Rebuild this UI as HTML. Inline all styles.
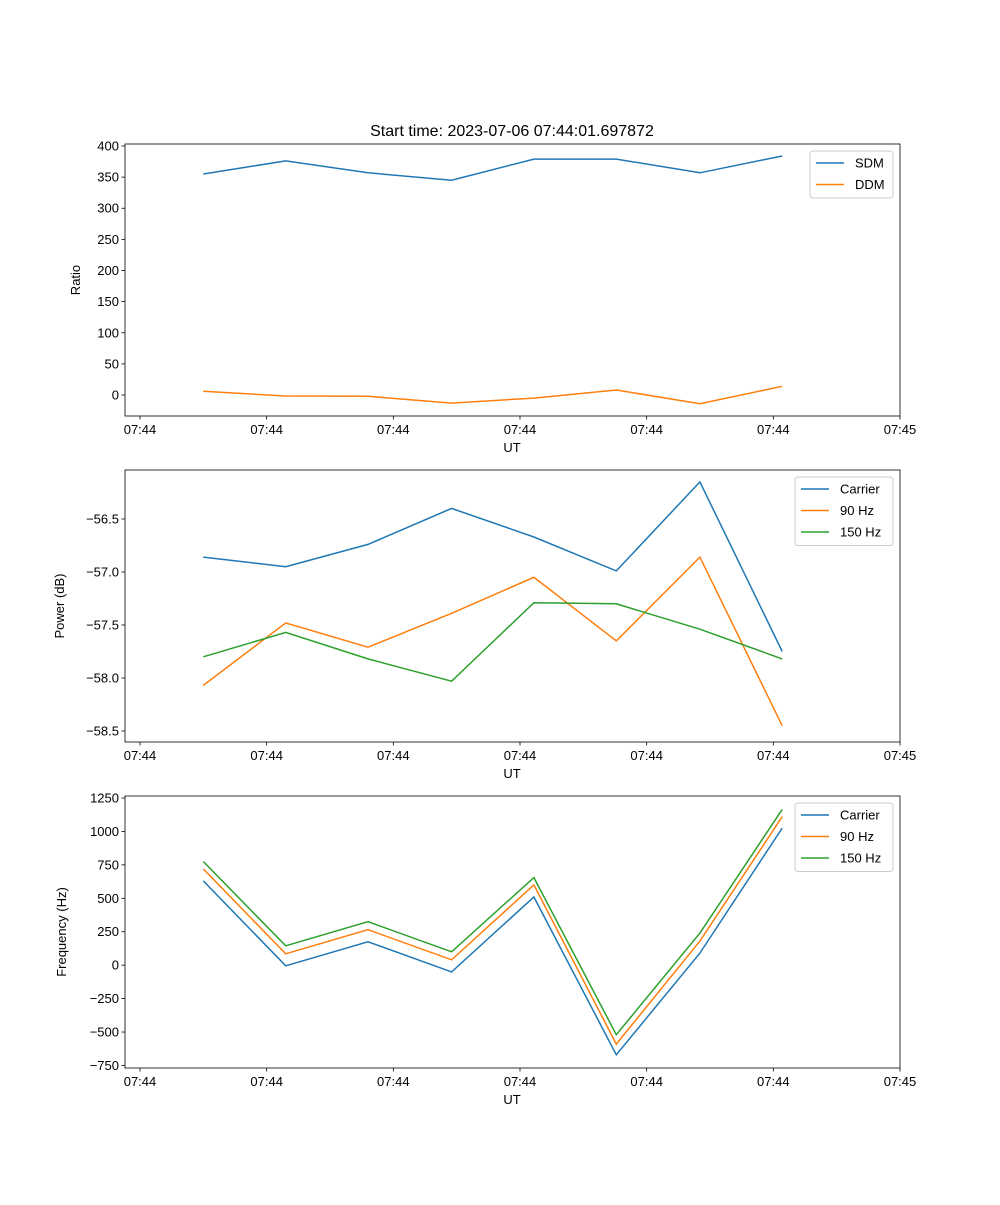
<!DOCTYPE html>
<html><head><meta charset="utf-8"><style>
body{margin:0;background:#fff;}
svg text{font-family:"Liberation Sans","DejaVu Sans",sans-serif;fill:#000;}
</style></head><body>
<svg id="fig" width="1000" height="1200" xmlns="http://www.w3.org/2000/svg">
<rect width="1000" height="1200" fill="#fff"/>
<text x="512" y="136" font-size="16" text-anchor="middle">Start time: 2023-07-06 07:44:01.697872</text>
</svg>
<script>
const times = [5.0, 11.5, 18.0, 24.6, 31.1, 37.6, 44.2, 50.7];
const xTickVals = [0, 10, 20, 30, 40, 50, 60];
const xTickLabels = ["07:44","07:44","07:44","07:44","07:44","07:44","07:45"];
const sdm = [355, 376, 357, 345, 379, 379, 357, 384];
const ddm = [6, -1.6, -2, -13, -5, 8, -14, 14];
const powCarrier = [-56.86, -56.95, -56.74, -56.40, -56.67, -56.99, -56.15, -57.75];
const pow90 = [-58.07, -57.48, -57.71, -57.39, -57.05, -57.65, -56.86, -58.45];
const pow150 = [-57.80, -57.57, -57.82, -58.03, -57.29, -57.30, -57.54, -57.82];
const freqCarrier = [630, -5, 175, -50, 510, -670, 90, 1025];
const freq90 = [720, 85, 265, 40, 600, -590, 180, 1110];
const freq150 = [775, 145, 325, 100, 655, -520, 240, 1165];
const ticks1 = [0, 50, 100, 150, 200, 250, 300, 350, 400];
const ticks2 = [-56.5, -57.0, -57.5, -58.0, -58.5];
const ticks3 = [-750, -500, -250, 0, 250, 500, 750, 1000, 1250];

const NS = "http://www.w3.org/2000/svg";
const svg = document.getElementById('fig');
function mk(tag, attrs, parent){const e=document.createElementNS(NS,tag);for(const k in attrs)e.setAttribute(k,attrs[k]);(parent||svg).appendChild(e);return e;}
const L=125,R=900;
const xs = t => L + (t - (-1.184)) / (60 - (-1.184)) * (R - L);

function panel(id, top, bot, ymin, ymax, yticks, yfmt, ylabel, ylabelX, series, legend){
  const g = mk('g', {});
  
  
  const ys = v => bot - (v - ymin) / (ymax - ymin) * (bot - top);
  series.forEach(s=>{
    const p = mk('polyline',{points:times.map((t,i)=>xs(t).toFixed(1)+','+ys(s.vals[i]).toFixed(1)).join(' '),fill:'none',stroke:s.color,'stroke-width':1.5},g);
    
    
  });
  const fr = mk('rect',{x:L,y:top,width:R-L,height:bot-top,fill:'none',stroke:'#000','stroke-width':0.8},g);
  
  
  xTickVals.forEach((v,i)=>{
    const x=xs(v);
    mk('line',{x1:x,x2:x,y1:bot,y2:bot+3.5,stroke:'#000','stroke-width':0.8},g);
    const t=mk('text',{x:x,y:bot+18,'font-size':13,'text-anchor':'middle'},g);
    t.textContent=xTickLabels[i];
    
    
  });
  yticks.forEach(v=>{
    const y=ys(v);
    mk('line',{x1:L-3.5,x2:L,y1:y,y2:y,stroke:'#000','stroke-width':0.8},g);
    const t=mk('text',{x:L-6,y:y+4.5,'font-size':13,'text-anchor':'end'},g);
    t.textContent=yfmt(v);
    
    
  });
  const xl=mk('text',{x:512,y:bot+36,'font-size':13,'text-anchor':'middle'},g);
  xl.textContent='UT';
  
  
  const cy=(top+bot)/2;
  const yl=mk('text',{x:ylabelX,y:cy,'font-size':13,'text-anchor':'middle',transform:`rotate(-90 ${ylabelX} ${cy})`},g);
  yl.textContent=ylabel;
  
  
  const lg=mk('g',{},g);
  
  
  mk('rect',{x:legend.x,y:legend.y,width:legend.w,height:series.length*21.5+4,fill:'#fff',stroke:'#ccc','stroke-width':1,rx:3},lg);
  series.forEach((s,i)=>{
    const y=legend.y+12+i*21.5;
    mk('line',{x1:legend.x+6,x2:legend.x+34,y1:y,y2:y,stroke:s.color,'stroke-width':1.5},lg);
    const t=mk('text',{x:legend.x+45,y:y+4.5,'font-size':13},lg);
    t.textContent=s.label;
    
    
  });
}
panel('ratio-panel',144,416,-33.7,403.2,ticks1,v=>String(v),'Ratio',80,
  [{vals:sdm,color:'#1f77b4',label:'SDM',name:'sdm-line'},{vals:ddm,color:'#ff7f0e',label:'DDM',name:'ddm-line'}],{x:810,y:151,w:83});
panel('power-panel',470,742,-58.604,-56.038,ticks2,v=>v.toFixed(1).replace('-','\u2212'),'Power (dB)',64,
  [{vals:powCarrier,color:'#1f77b4',label:'Carrier',name:'carrier-power-line'},{vals:pow90,color:'#ff7f0e',label:'90 Hz',name:'90hz-power-line'},{vals:pow150,color:'#2ca02c',label:'150 Hz',name:'150hz-power-line'}],{x:795,y:477,w:98});
panel('frequency-panel',796,1068,-769,1265,ticks3,v=>String(v).replace('-','\u2212'),'Frequency (Hz)',66,
  [{vals:freqCarrier,color:'#1f77b4',label:'Carrier',name:'carrier-freq-line'},{vals:freq90,color:'#ff7f0e',label:'90 Hz',name:'90hz-freq-line'},{vals:freq150,color:'#2ca02c',label:'150 Hz',name:'150hz-freq-line'}],{x:795,y:803,w:98});
</script>
</body></html>
